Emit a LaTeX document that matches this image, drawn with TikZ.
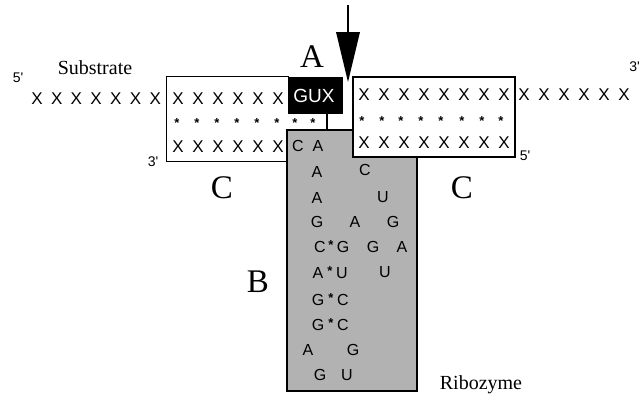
\documentclass[tikz,border=0pt]{standalone}
\usepackage{fontspec}
\setmainfont{Liberation Serif}
\newfontfamily\hv{Liberation Sans}
\begin{document}
\begin{tikzpicture}[x=1pt,y=-1pt,
  xl/.style={font=\hv\fontsize{17}{17}\selectfont, inner sep=0pt},
  dotm/.style={font=\hv\bfseries\fontsize{13}{13}\selectfont, inner sep=0pt},
  rl/.style={font=\hv\fontsize{16}{16}\selectfont, inner sep=0pt},
  big/.style={font=\fontsize{33}{33}\selectfont, inner sep=0pt},
  lab/.style={font=\fontsize{20}{20}\selectfont, inner sep=0pt},
  prime/.style={font=\hv\fontsize{14}{14}\selectfont, inner sep=0pt},
  boxw/.style={draw, line width=1.3pt, fill=white, inner sep=0pt},
  grayb/.style={draw, line width=1.3pt, fill=black!30, inner sep=0pt}]
\useasboundingbox (0,0) rectangle (640,399);
% boxes
\node (lbox) [fill=white, inner sep=0pt, minimum width=122pt, minimum height=84pt] at (228,119) {};
\draw[line width=1.3pt] (lbox.north east) -- (lbox.north west) -- (lbox.south west) -- (lbox.south east);
\node (gray) [grayb, minimum width=130pt, minimum height=261pt] at (352,260.5) {};
\node (rbox) [boxw, minimum width=162pt, minimum height=80pt] at (434,117) {};
\node (gux) [draw, fill=black, line width=1pt, minimum width=54pt, minimum height=36pt, inner sep=0pt] at (315,95) {};
\node (guxt) [font=\hv\fontsize{19}{19}\selectfont, text=white, inner sep=0pt] at (314,96) {GUX};
% stick from GUX to ribozyme
\coordinate (stick) at (327,0);
\draw[line width=1.2pt] (gux.south -| stick) -- (gray.north -| stick);
% cleavage arrow
\coordinate (arrtop) at (348,5);
\coordinate (arrbase) at (348,32);
\coordinate (arrtip) at (348,82);
\draw[line width=1.3pt] (arrtop) -- (arrbase);
\fill (336,32) -- (360,32) -- (arrtip) -- cycle;
% substrate strand
\foreach \i in {0,...,6} \node[xl] (sl\i) at (37+19.7*\i,99) {X};
\foreach \i in {0,...,5} \node[xl] (sb\i) at (178+20*\i,99) {X};
\foreach \i in {0,...,7} \node[xl] (sr\i) at (364+20*\i,95) {X};
\foreach \i in {0,...,5} \node[xl] (so\i) at (524+20*\i,95) {X};
% pairing dots
\foreach \x [count=\i] in {177,197,217,237,257,277,295,313} \node[dotm] (dl\i) at (\x,123) {*};
\foreach \x [count=\i] in {362,382,401,421,441,462,482,501} \node[dotm] (dr\i) at (\x,121) {*};
% ribozyme arms
\foreach \i in {0,...,5} \node[xl] (rl\i) at (178+20*\i,147) {X};
\foreach \i in {0,...,7} \node[xl] (rr\i) at (364+20*\i,143) {X};
% primes
\node[prime] (p5a) at (18,78) {5'};
\node[prime, anchor=east] (p3a) at (640,67) {3'};
\node[prime] (p3b) at (153,162) {3'};
\node[prime] (p5b) at (525,156) {5'};
% labels
\node[lab] (substr) at (95,68) {Substrate};
\node[lab] (ribo) at (481,385) {Ribozyme};
\node[big] (labA) at (312,57) {A};
\node[big] (labC1) at (222,188) {C};
\node[big] (labC2) at (462,188) {C};
\node[big] (labB) at (258,282) {B};
% ribozyme core letters
\node[rl] (r1a) at (298,146) {C};
\node[rl] (r1b) at (318,146) {A};
\node[rl] (r2a) at (317,172) {A};
\node[rl] (r2b) at (365,170) {C};
\node[rl] (r3a) at (317,198) {A};
\node[rl] (r3b) at (383,197) {U};
\node[rl] (r4a) at (317,222) {G};
\node[rl] (r4b) at (355,222) {A};
\node[rl] (r4c) at (393,222) {G};
\node[rl] (r5a) at (320,247) {C};
\node[rl] (r5b) at (343,247) {G};
\node[rl] (r5c) at (373,247) {G};
\node[rl] (r5d) at (402,247) {A};
\node[rl] (r6a) at (318,273) {A};
\node[rl] (r6b) at (342,273) {U};
\node[rl] (r6c) at (385,272) {U};
\node[rl] (r7a) at (318,300) {G};
\node[rl] (r7b) at (343,300) {C};
\node[rl] (r8a) at (318,325) {G};
\node[rl] (r8b) at (343,325) {C};
\node[rl] (r9a) at (308,350) {A};
\node[rl] (r9b) at (353,350) {G};
\node[rl] (r10a) at (320,375) {G};
\node[rl] (r10b) at (347,375) {U};
% base-pair stars
\node[dotm] (st5) at (331,245) {*};
\node[dotm] (st6) at (330,271) {*};
\node[dotm] (st7) at (331,298) {*};
\node[dotm] (st8) at (331,323) {*};
\end{tikzpicture}
\end{document}
